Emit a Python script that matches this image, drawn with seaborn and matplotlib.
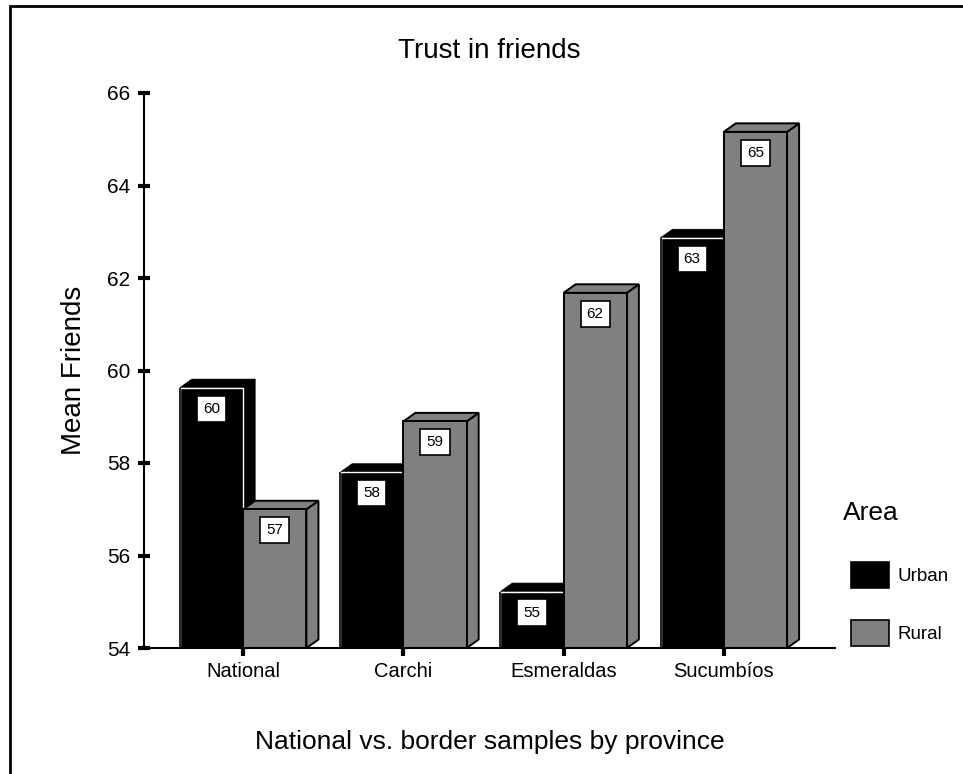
import matplotlib
matplotlib.use("Agg")
import matplotlib.pyplot as plt
from matplotlib.patches import Polygon, Patch, Rectangle
import seaborn as sns
import pandas as pd

categories = ["National", "Carchi", "Esmeraldas", "Sucumbíos"]
areas = ["Urban", "Rural"]
urban_values = [59.63, 57.80, 55.22, 62.87]
rural_values = [57.00, 58.90, 61.68, 65.16]
area_colors = {"Urban": "#000000", "Rural": "#808080"}

rows = []
for c, u, r in zip(categories, urban_values, rural_values):
    rows.append({"Province": c, "Area": "Urban", "Mean": u})
    rows.append({"Province": c, "Area": "Rural", "Mean": r})
df = pd.DataFrame(rows)

sns.set_theme(style="white")
plt.rcParams["font.family"] = ["Liberation Sans", "DejaVu Sans"]
plt.rcParams["text.color"] = "black"
plt.rcParams["axes.labelcolor"] = "black"
plt.rcParams["xtick.color"] = "black"
plt.rcParams["ytick.color"] = "black"

W, H = 963, 774
fig = plt.figure(figsize=(W / 100, H / 100), dpi=100)
ax_l, ax_r, ax_t, ax_b = 144, 835, 93, 648
ax = fig.add_axes([ax_l / W, 1 - ax_b / H, (ax_r - ax_l) / W, (ax_b - ax_t) / H])

sns.barplot(data=df, x="Province", y="Mean", hue="Area", order=categories,
            hue_order=areas, palette=area_colors, width=0.79, legend=False,
            ax=ax, saturation=1)

ymin, ymax = 54, 66
ax.set_ylim(ymin, ymax)
ax.set_xlim(-0.619, 3.694)

# 3D depth in data units
px_x = (ax_r - ax_l) / (3.694 + 0.619)
px_y = (ax_b - ax_t) / (ymax - ymin)
dx = 12 / px_x
dy = 8.5 / px_y

n = len(categories)
patches = list(ax.patches)
for idx, p in enumerate(patches):
    area = areas[idx // n]
    val = (urban_values if area == "Urban" else rural_values)[idx % n]
    col = area_colors[area]
    z = 2 if area == "Urban" else 3
    x0 = p.get_x()
    x1 = x0 + p.get_width()
    if area == "Urban":
        p.set_edgecolor("white")
        p.set_linewidth(1.0)
        ec, lw = col, 0.5
    else:
        p.set_edgecolor("black")
        p.set_linewidth(1.4)
        ec, lw = "black", 1.4
    p.set_zorder(z + 0.2)
    top = Polygon([(x0, val), (x1, val), (x1 + dx, val + dy), (x0 + dx, val + dy)],
                  closed=True, facecolor=col, edgecolor=ec, linewidth=lw, zorder=z + 0.1,
                  joinstyle="miter", clip_on=False)
    side = Polygon([(x1, ymin), (x1, val), (x1 + dx, val + dy), (x1 + dx, ymin + dy)],
                   closed=True, facecolor=col, edgecolor=ec, linewidth=lw, zorder=z,
                   joinstyle="miter", clip_on=False)
    ax.add_patch(side)
    ax.add_patch(top)
    if area == "Urban":
        ax.plot([x0, x0], [ymin, val], color="black", linewidth=1.2, zorder=z + 0.3,
                solid_capstyle="butt")
    ax.text((x0 + x1) / 2, val - 21 / px_y, f"{round(val):d}", ha="center", va="center",
            fontsize=11, color="black", zorder=6,
            bbox=dict(boxstyle="square,pad=0.4", facecolor="white", edgecolor="black",
                      linewidth=1.2))

for s in ["top", "right"]:
    ax.spines[s].set_visible(False)
for s in ["left", "bottom"]:
    ax.spines[s].set_visible(True)
    ax.spines[s].set_color("black")
    ax.spines[s].set_linewidth(1.5)
    ax.spines[s].set_zorder(10)

ax.set_yticks([54, 56, 58, 60, 62, 64, 66])
ax.tick_params(axis="y", direction="inout", length=8, width=3, colors="black",
               labelsize=15, pad=6, left=True)
ax.tick_params(axis="x", direction="out", length=6, width=3, colors="black",
               labelsize=14.5, pad=4, bottom=True)
ax.grid(False)

ax.set_title("Trust in friends", fontsize=20, pad=25, color="black")
ax.set_ylabel("Mean Friends", fontsize=20, labelpad=14, color="black")
ax.set_xlabel("National vs. border samples by province", fontsize=19, labelpad=35,
              color="black")

handles = [Patch(facecolor=area_colors[a], edgecolor="black", linewidth=1.2, label=a)
           for a in areas]
leg = fig.legend(handles=handles, loc="upper left",
                 bbox_to_anchor=(851 / W, 1 - 562 / H), frameon=False,
                 fontsize=13.5, handlelength=2.0, handleheight=1.75,
                 labelspacing=1.7, handletextpad=0.5, borderaxespad=0, borderpad=0)
for t in leg.get_texts():
    t.set_color("black")
fig.text(843 / W, 1 - 513 / H, "Area", fontsize=19, color="black", ha="left", va="center")

# outer frame (visible on left and top)
fig.patches.append(Rectangle((10 / W, -0.1), 1.2, 1.1 - 6 / H, transform=fig.transFigure,
                             fill=False, edgecolor="black", linewidth=2))

fig.savefig("out.png", dpi=100, facecolor="white")
